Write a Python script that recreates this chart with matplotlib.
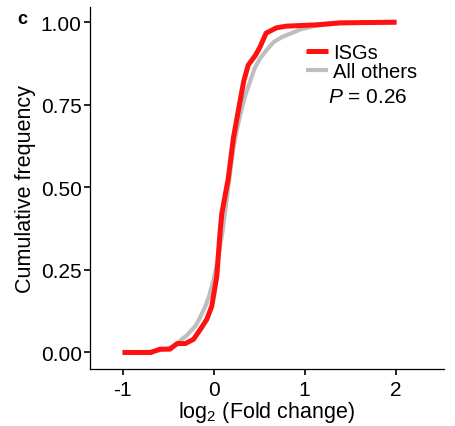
import numpy as np
import matplotlib.pyplot as plt

plt.rcParams['font.family'] = ['Liberation Sans', 'DejaVu Sans']
plt.rcParams['mathtext.fontset'] = 'custom'
plt.rcParams['mathtext.rm'] = 'Liberation Sans'
plt.rcParams['mathtext.it'] = 'Liberation Sans:italic'

# cumulative curves
isg_x = [-1.0, -0.69, -0.59, -0.48, -0.40, -0.31, -0.22, -0.15, -0.075, -0.02,
         0.035, 0.07, 0.09, 0.16, 0.218, 0.27, 0.33, 0.38, 0.46, 0.51, 0.577,
         0.69, 0.80, 1.13, 1.39, 2.01]
isg_y = [0.0, 0.0, 0.01, 0.01, 0.027, 0.027, 0.04, 0.068, 0.10, 0.14,
         0.23, 0.36, 0.42, 0.525, 0.65, 0.73, 0.82, 0.87, 0.90, 0.925, 0.967,
         0.983, 0.988, 0.992, 0.998, 1.0]

other_x = [-1.0, -0.7, -0.6, -0.5, -0.4, -0.35, -0.3, -0.2, -0.15, -0.09, -0.05,
           0.0, 0.035, 0.07, 0.1, 0.126, 0.17, 0.218, 0.26, 0.31, 0.35, 0.40,
           0.45, 0.51, 0.58, 0.66, 0.75, 0.84, 0.95, 1.13, 1.4, 2.0]
other_y = [0.0, 0.002, 0.006, 0.012, 0.025, 0.04, 0.05, 0.08, 0.105, 0.14, 0.17,
           0.22, 0.265, 0.32, 0.37, 0.425, 0.52, 0.62, 0.68, 0.74, 0.78, 0.82,
           0.86, 0.89, 0.915, 0.94, 0.955, 0.965, 0.978, 0.99, 0.997, 1.0]

xticks = [-1, 0, 1, 2]
yticks = [0.0, 0.25, 0.5, 0.75, 1.0]
p_value = 0.26

fig = plt.figure(figsize=(4.55, 4.27), dpi=100)
ax = fig.add_axes([90/455, 1 - 370/427, 354/455, 362/427])

ax.plot(other_x, other_y, color='#bebebe', lw=3.0, label='All others',
        solid_capstyle='butt')
ax.plot(isg_x, isg_y, color='#ff1111', lw=3.6, label='ISGs',
        solid_capstyle='butt', solid_joinstyle='round')

ax.set_xlim(-1.357, 2.53)
ax.set_ylim(-0.05, 1.046)
ax.set_xticks(xticks)
ax.set_xticklabels([str(t) for t in xticks])
ax.set_yticks(yticks)
ax.set_yticklabels(['%.2f' % t for t in yticks])

for s in ['top', 'right']:
    ax.spines[s].set_visible(False)
for s in ['left', 'bottom']:
    ax.spines[s].set_linewidth(0.9)
ax.tick_params(length=4, width=1.2, labelsize=15, pad=2, colors='black')
ax.tick_params(axis='x', pad=4)

ax.set_xlabel('log$_2$ (Fold change)', fontsize=15.5, labelpad=0)
ax.set_ylabel('Cumulative frequency', fontsize=15.5, labelpad=3)

handles, labels = ax.get_legend_handles_labels()
leg = ax.legend(handles[::-1], labels[::-1], loc='upper left',
                bbox_to_anchor=(0.61, 0.90), frameon=False, fontsize=14.5,
                handlelength=1.1, handletextpad=0.25, labelspacing=0.0,
                borderpad=0, borderaxespad=0)

ax.text(0.672, 0.752, '$P$ = %.2f' % p_value, transform=ax.transAxes,
        fontsize=15, ha='left', va='center')

fig.text(17/455, 1 - 19/427, 'c', fontsize=13, fontweight='bold',
         ha='left', va='center')

fig.savefig('out.png', dpi=100)
